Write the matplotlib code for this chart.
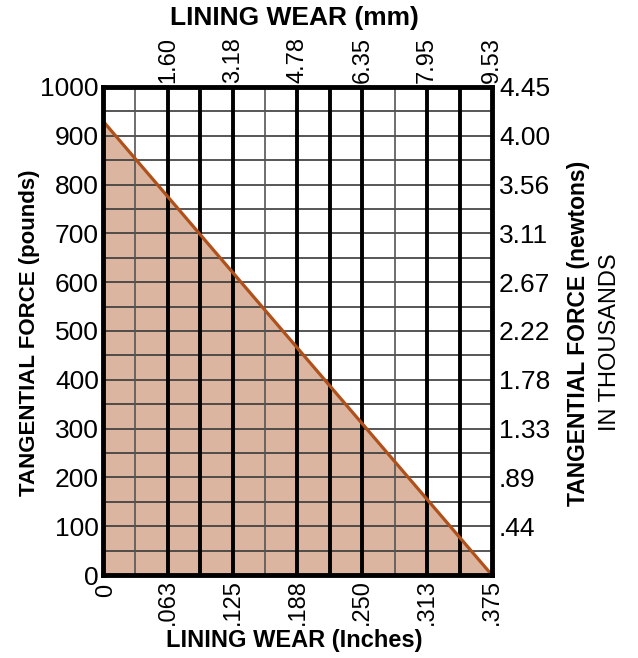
import numpy as np
import matplotlib
matplotlib.use("Agg")
import matplotlib.pyplot as plt
import matplotlib.transforms as mtransforms

plt.rcParams['font.family'] = ['Liberation Sans', 'DejaVu Sans']

# data
wear_in = [0.0, 0.375]            # lining wear, inches
force_lb = [930, 0]               # tangential force, pounds
in_ticks = [0, 0.0625, 0.125, 0.1875, 0.25, 0.3125, 0.375]
in_labels = ["0", ".063", ".125", ".188", ".250", ".313", ".375"]
mm_ticks = [0.0625, 0.125, 0.1875, 0.25, 0.3125, 0.375]
mm_labels = ["1.60", "3.18", "4.78", "6.35", "7.95", "9.53"]
lb_ticks = list(range(0, 1001, 100))
kn_ticks = list(range(100, 1001, 100))
kn_labels = [".44", ".89", "1.33", "1.78", "2.22", "2.67", "3.11", "3.56", "4.00", "4.45"]
thin_cols = [1, 5, 9]             # 1/32 in columns drawn with thin rules

fig = plt.figure(figsize=(6.38, 6.58), dpi=100)
ax = fig.add_axes([0.1614, 0.126, 0.6097, 0.742])
ax.set_xlim(0, 0.375)
ax.set_ylim(0, 1000)

ax.fill_between(wear_in, force_lb, 0, color="#dbb59f", lw=0, zorder=1)

# grid
for y in range(50, 1000, 50):
    ax.axhline(y, color="#3a3a3a", lw=1.2, zorder=2)
for k in range(1, 12):
    if k in thin_cols:
        ax.axvline(k / 32, color="#555555", lw=1.2, zorder=2)
    else:
        ax.axvline(k / 32, color="black", lw=2.8, zorder=2)

ax.plot(wear_in, force_lb, color="#b0501a", lw=2.3, zorder=3, solid_capstyle="butt")

for s in ax.spines.values():
    s.set_linewidth(3.5)
    s.set_zorder(4)

ax.set_xticks(in_ticks)
ax.set_xticklabels(in_labels, rotation=90, fontsize=17)
ax.set_yticks(lb_ticks)
ax.set_yticklabels([str(v) for v in lb_ticks], fontsize=19)
ax.tick_params(length=0, pad=3)

# nudge the corner "0" on the x axis so it clears the y-axis "0"
zero = ax.get_xticklabels()[0]
zero.set_transform(zero.get_transform() +
                   mtransforms.ScaledTranslation(2.5 / 72, -3 / 72, fig.dpi_scale_trans))

top = ax.twiny()
top.set_xlim(ax.get_xlim())
top.set_xticks(mm_ticks)
top.set_xticklabels(mm_labels, rotation=90, fontsize=17)
top.tick_params(length=0, pad=3)
for s in top.spines.values():
    s.set_visible(False)

right = ax.twinx()
right.set_ylim(ax.get_ylim())
right.set_yticks(kn_ticks)
right.set_yticklabels(kn_labels, fontsize=19)
right.tick_params(length=0, pad=5)
for s in right.spines.values():
    s.set_visible(False)

# axis titles
fig.text(0.462, 0.973, "LINING WEAR (mm)", fontsize=19, fontweight="bold",
         ha="center", va="center")
fig.text(0.461, 0.027, "LINING WEAR (Inches)", fontsize=17, fontweight="bold",
         ha="center", va="center")
fig.text(0.047, 0.494, "TANGENTIAL FORCE (pounds)", rotation=90, fontsize=16,
         fontweight="bold", ha="center", va="center")
fig.text(0.906, 0.494, "TANGENTIAL FORCE (newtons)", rotation=90, fontsize=16.5,
         fontweight="bold", ha="center", va="center")
fig.text(0.956, 0.480, "IN THOUSANDS", rotation=90, fontsize=17,
         ha="center", va="center")

fig.savefig("out.png", dpi=100)
